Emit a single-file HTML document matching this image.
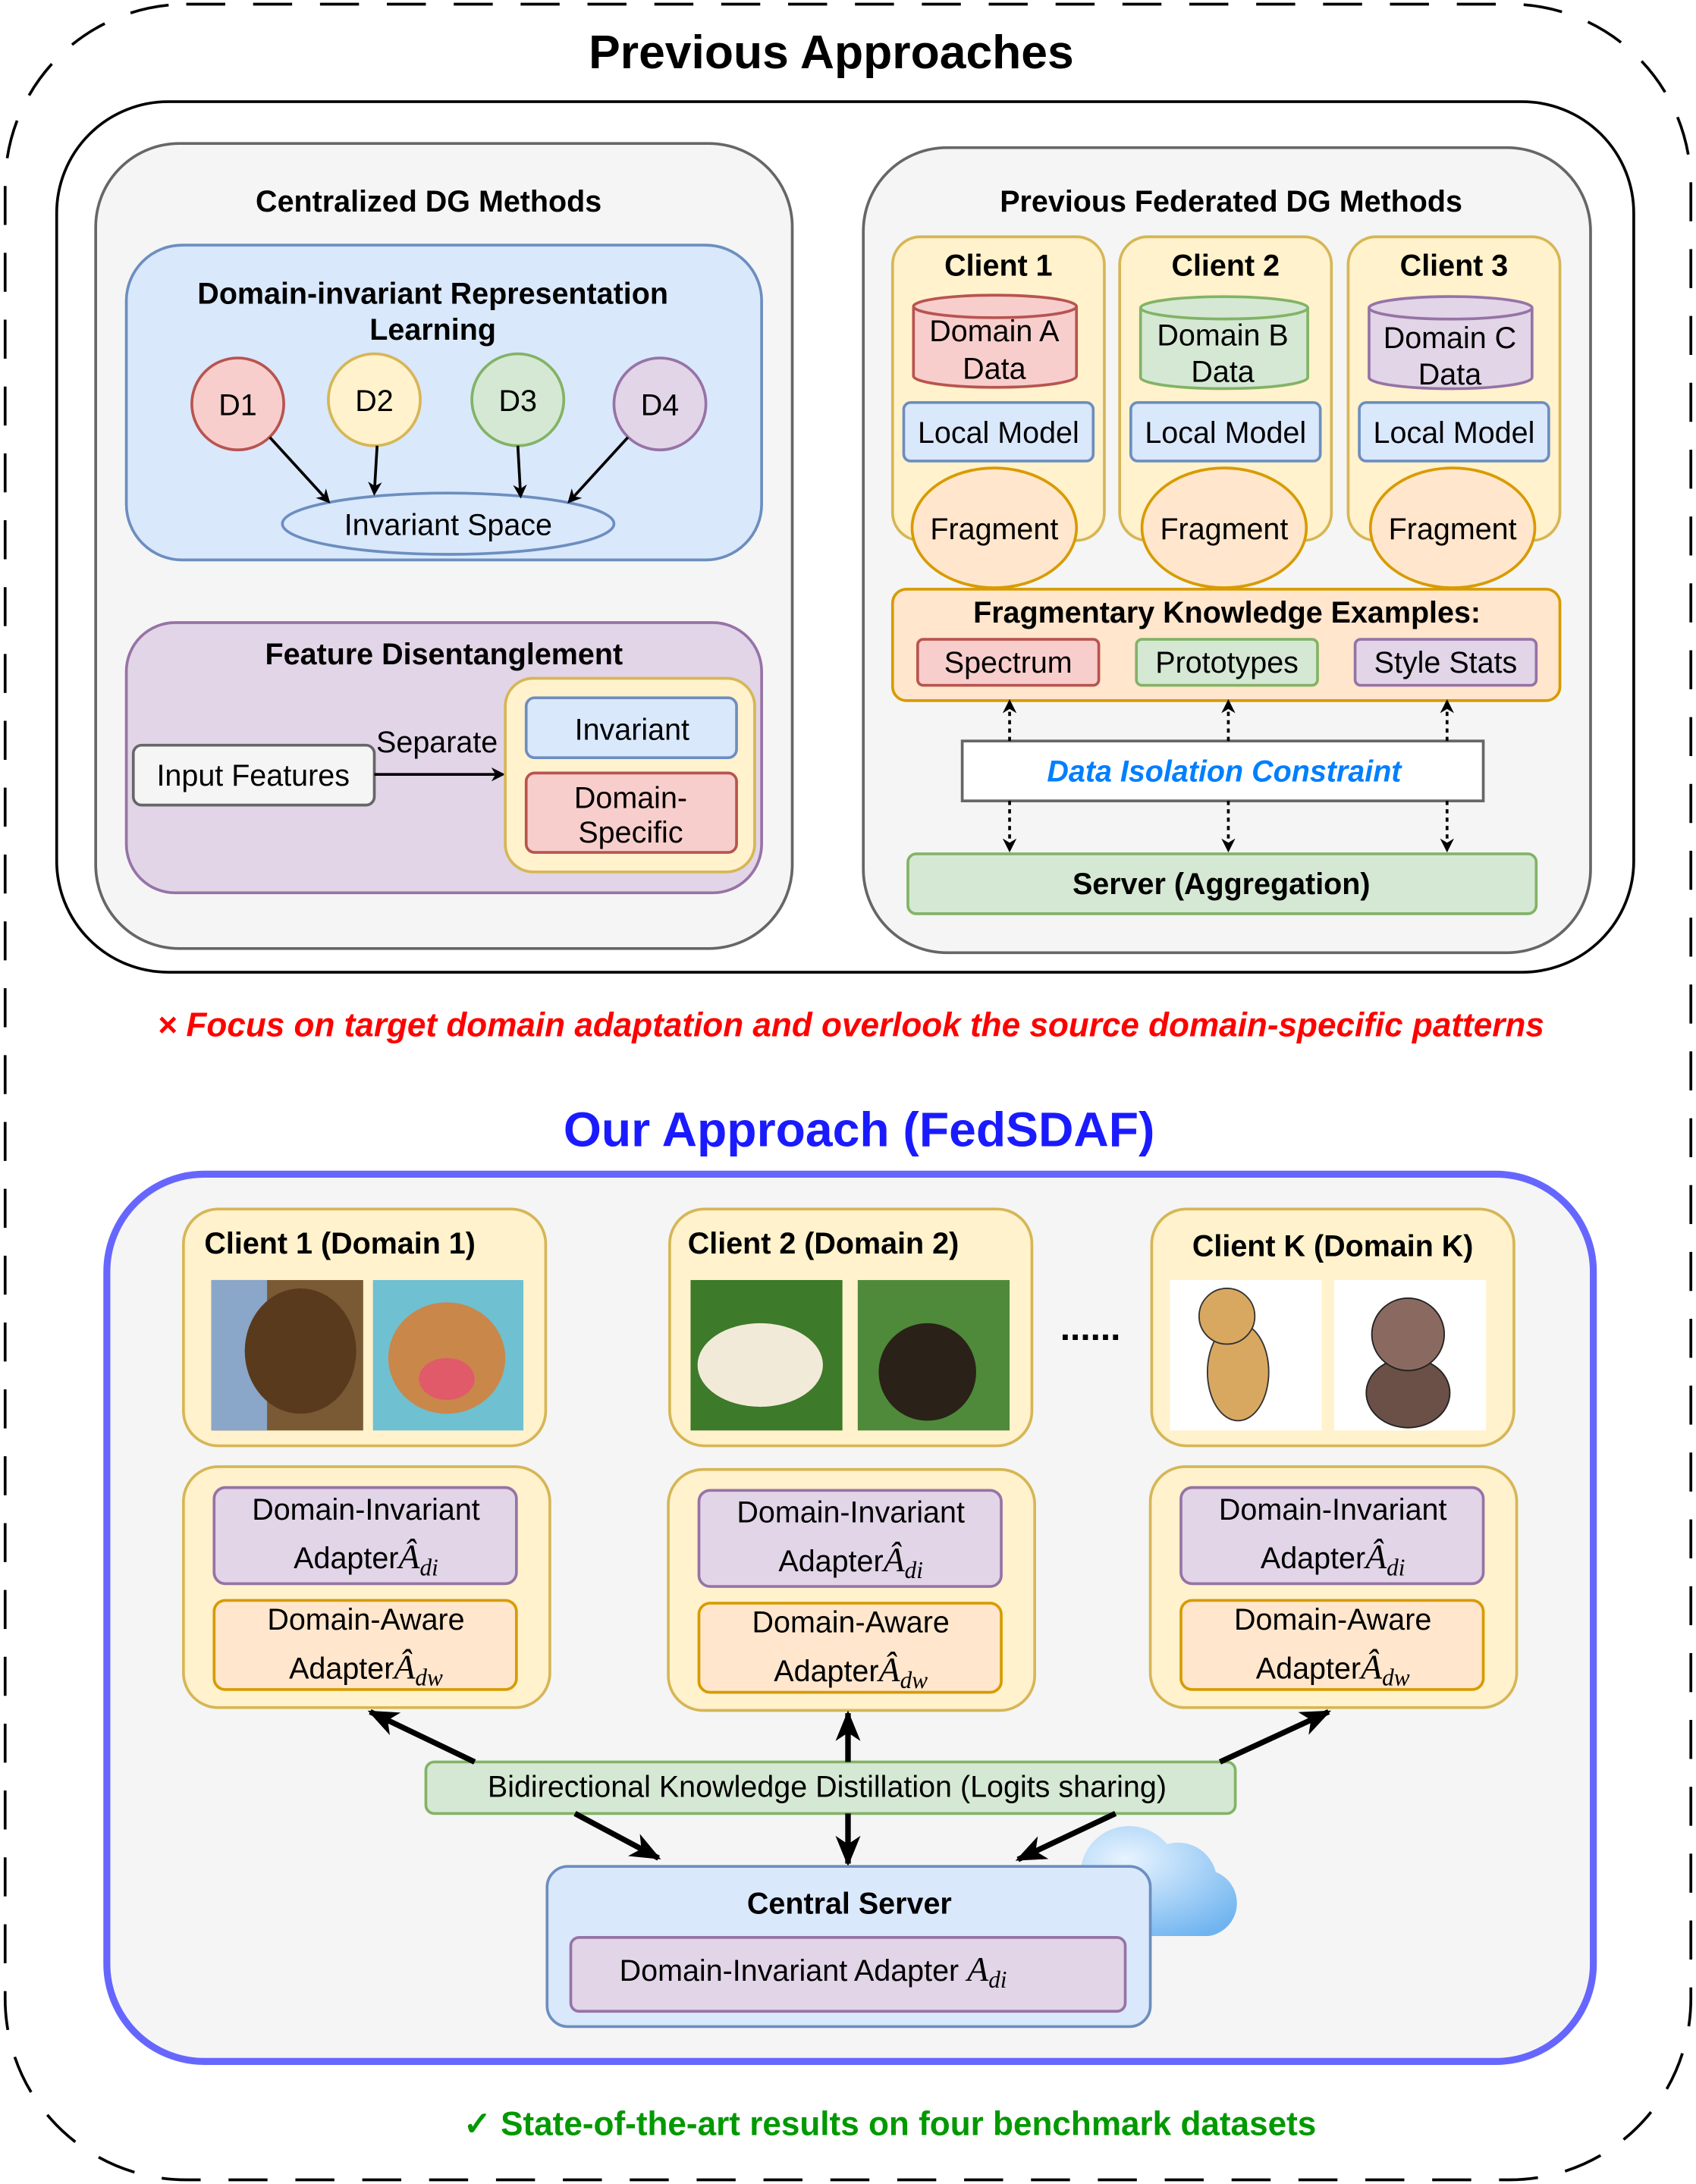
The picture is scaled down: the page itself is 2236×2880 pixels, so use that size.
<!DOCTYPE html>
<html><head><meta charset="utf-8"><style>
html,body{margin:0;padding:0;background:#fff}
svg{display:block}
text{font-family:"Liberation Sans",sans-serif;fill:#000}
.b{font-weight:bold}
.c{text-anchor:middle}
.m{font-family:"Liberation Serif",serif;font-style:italic}
</style></head><body>
<svg width="2236" height="2880" viewBox="0 0 1216 1568" xmlns="http://www.w3.org/2000/svg">
<defs>
<marker id="ah" markerWidth="10" markerHeight="10" refX="8" refY="5" orient="auto" markerUnits="userSpaceOnUse"><path d="M0,0 L10,5 L0,10 L3,5z" fill="#000"/></marker>
<marker id="ahb" markerWidth="22" markerHeight="18" refX="20" refY="9" orient="auto" markerUnits="userSpaceOnUse"><path d="M0,0 L22,9 L0,18 L6,9z" fill="#000"/></marker>
<radialGradient id="cl" cx="0.4" cy="0.3" r="0.8"><stop offset="0" stop-color="#e8f4ff"/><stop offset="1" stop-color="#6fb4f0"/></radialGradient>
</defs>
<rect x="3" y="3" width="1210" height="1562" rx="130" fill="none" stroke="#000" stroke-width="2" stroke-dasharray="28,20"/>
<text x="596" y="49" class="b c" font-size="34">Previous Approaches</text>
<rect x="40" y="73" width="1132" height="625" rx="80" fill="#fff" stroke="#000" stroke-width="2"/>
<!-- left -->
<rect x="68" y="103" width="500" height="578" rx="60" fill="#f5f5f5" stroke="#666" stroke-width="2"/>
<text x="307" y="152" class="b c" font-size="21.5">Centralized DG Methods</text>
<rect x="90" y="176" width="456" height="226" rx="40" fill="#dae8fc" stroke="#6c8ebf" stroke-width="2"/>
<text x="310" y="218" class="b c" font-size="21.5">Domain-invariant Representation</text>
<text x="310" y="244" class="b c" font-size="21.5">Learning</text>
<g stroke-width="2">
<circle cx="170" cy="290" r="33" fill="#f8cecc" stroke="#b85450"/>
<circle cx="268" cy="287" r="33" fill="#fff2cc" stroke="#d6b656"/>
<circle cx="371" cy="287" r="33" fill="#d5e8d4" stroke="#82b366"/>
<circle cx="473" cy="290" r="33" fill="#e1d5e7" stroke="#9673a6"/>
<ellipse cx="321" cy="376" rx="119" ry="22" fill="#dae8fc" stroke="#6c8ebf"/>
</g>
<text x="170" y="298" class="c" font-size="21.5">D1</text>
<text x="268" y="295" class="c" font-size="21.5">D2</text>
<text x="371" y="295" class="c" font-size="21.5">D3</text>
<text x="473" y="298" class="c" font-size="21.5">D4</text>
<text x="321" y="384" class="c" font-size="21.5">Invariant Space</text>
<g stroke="#000" stroke-width="2" marker-end="url(#ah)">
<line x1="193" y1="314" x2="235" y2="360"/><line x1="270" y1="320" x2="268" y2="354"/>
<line x1="371" y1="320" x2="373" y2="356"/><line x1="450" y1="314" x2="408" y2="360"/>
</g>
<rect x="90" y="447" width="456" height="194" rx="35" fill="#e1d5e7" stroke="#9673a6" stroke-width="2"/>
<text x="318" y="477" class="b c" font-size="21.5">Feature Disentanglement</text>
<rect x="95" y="535" width="173" height="43" rx="6" fill="#f5f5f5" stroke="#666" stroke-width="2"/>
<text x="181" y="564" class="c" font-size="21.5">Input Features</text>
<line x1="268" y1="556" x2="360" y2="556" stroke="#000" stroke-width="2" marker-end="url(#ah)"/>
<text x="313" y="540" class="c" font-size="21.5">Separate</text>
<rect x="362" y="487" width="179" height="139" rx="20" fill="#fff2cc" stroke="#d6b656" stroke-width="2"/>
<rect x="377" y="501" width="151" height="43" rx="6" fill="#dae8fc" stroke="#6c8ebf" stroke-width="2"/>
<text x="453" y="531" class="c" font-size="21.5">Invariant</text>
<rect x="377" y="555" width="151" height="57" rx="6" fill="#f8cecc" stroke="#b85450" stroke-width="2"/>
<text x="452" y="580" class="c" font-size="21.5">Domain-</text>
<text x="452" y="605" class="c" font-size="21.5">Specific</text>
<!-- right -->
<rect x="619" y="106" width="522" height="578" rx="60" fill="#f5f5f5" stroke="#666" stroke-width="2"/>
<text x="883" y="152" class="b c" font-size="21.5">Previous Federated DG Methods</text>
<g stroke-width="2">
<rect x="640" y="170" width="152" height="218" rx="20" fill="#fff2cc" stroke="#d6b656"/>
<rect x="803" y="170" width="152" height="218" rx="20" fill="#fff2cc" stroke="#d6b656"/>
<rect x="967" y="170" width="152" height="218" rx="20" fill="#fff2cc" stroke="#d6b656"/>
</g>
<text x="716" y="198" class="b c" font-size="21.5">Client 1</text>
<text x="879" y="198" class="b c" font-size="21.5">Client 2</text>
<text x="1043" y="198" class="b c" font-size="21.5">Client 3</text>
<g stroke-width="2">
<path d="M655,220 v50 a58,8 0 0 0 117,0 v-50 a58,8 0 0 0 -117,0 a58,8 0 0 0 117,0" fill="#f8cecc" stroke="#b85450"/>
<path d="M818,221 v50 a60,8 0 0 0 120,0 v-50 a60,8 0 0 0 -120,0 a60,8 0 0 0 120,0" fill="#d5e8d4" stroke="#82b366"/>
<path d="M982,221 v50 a58,8 0 0 0 117,0 v-50 a58,8 0 0 0 -117,0 a58,8 0 0 0 117,0" fill="#e1d5e7" stroke="#9673a6"/>
</g>
<text x="713" y="245" class="c" font-size="21.5">Domain A</text><text x="713" y="272" class="c" font-size="21.5">Data</text>
<text x="877" y="248" class="c" font-size="21.5">Domain B</text><text x="877" y="274" class="c" font-size="21.5">Data</text>
<text x="1040" y="250" class="c" font-size="21.5">Domain C</text><text x="1040" y="276" class="c" font-size="21.5">Data</text>
<g stroke-width="2" fill="#dae8fc" stroke="#6c8ebf">
<rect x="648" y="289" width="136" height="42" rx="5"/><rect x="811" y="289" width="136" height="42" rx="5"/><rect x="975" y="289" width="136" height="42" rx="5"/>
</g>
<text x="716" y="318" class="c" font-size="21.5">Local Model</text>
<text x="879" y="318" class="c" font-size="21.5">Local Model</text>
<text x="1043" y="318" class="c" font-size="21.5">Local Model</text>
<g stroke-width="2" fill="#ffe6cc" stroke="#d79b00">
<ellipse cx="713" cy="379" rx="59" ry="43"/><ellipse cx="878" cy="379" rx="59" ry="43"/><ellipse cx="1042" cy="379" rx="59" ry="43"/>
</g>
<text x="713" y="387" class="c" font-size="21.5">Fragment</text>
<text x="878" y="387" class="c" font-size="21.5">Fragment</text>
<text x="1042" y="387" class="c" font-size="21.5">Fragment</text>
<rect x="640" y="423" width="479" height="80" rx="10" fill="#ffe6cc" stroke="#d79b00" stroke-width="2"/>
<text x="880" y="447" class="b c" font-size="21.5">Fragmentary Knowledge Examples:</text>
<rect x="658" y="459" width="130" height="33" rx="4" fill="#f8cecc" stroke="#b85450" stroke-width="2"/>
<rect x="815" y="459" width="130" height="33" rx="4" fill="#d5e8d4" stroke="#82b366" stroke-width="2"/>
<rect x="972" y="459" width="130" height="33" rx="4" fill="#e1d5e7" stroke="#9673a6" stroke-width="2"/>
<text x="723" y="483" class="c" font-size="21.5">Spectrum</text>
<text x="880" y="483" class="c" font-size="21.5">Prototypes</text>
<text x="1037" y="483" class="c" font-size="21.5">Style Stats</text>
<rect x="690" y="532" width="374" height="43" fill="#fff" stroke="#666" stroke-width="2"/>
<text x="878" y="561" class="b c" font-size="21.5" font-style="italic" style="fill:#007fff">Data Isolation Constraint</text>
<g stroke="#000" stroke-width="2" stroke-dasharray="3,3" marker-end="url(#ah)">
<line x1="724" y1="532" x2="724" y2="504"/><line x1="881" y1="532" x2="881" y2="504"/><line x1="1038" y1="532" x2="1038" y2="504"/>
<line x1="724" y1="575" x2="724" y2="610"/><line x1="881" y1="575" x2="881" y2="610"/><line x1="1038" y1="575" x2="1038" y2="610"/>
</g>
<rect x="651" y="613" width="451" height="43" rx="6" fill="#d5e8d4" stroke="#82b366" stroke-width="2"/>
<text x="876" y="642" class="b c" font-size="21.5">Server (Aggregation)</text>
<text x="610" y="744" class="b c" font-size="24" font-style="italic" style="fill:#ff0000">× Focus on target domain adaptation and overlook the source domain-specific patterns</text>
<text x="616" y="823" class="b c" font-size="35" style="fill:#1a1aff">Our Approach (FedSDAF)</text>
<rect x="76" y="843" width="1067" height="637" rx="70" fill="#f5f5f5" stroke="#6666ff" stroke-width="5"/>
<!-- client cards -->
<g stroke-width="2" fill="#fff2cc" stroke="#d6b656">
<rect x="131" y="868" width="260" height="170" rx="25"/><rect x="480" y="868" width="260" height="170" rx="25"/><rect x="826" y="868" width="260" height="170" rx="25"/>
</g>
<text x="146" y="900" class="b" font-size="21.5">Client 1 (Domain 1)</text>
<text x="493" y="900" class="b" font-size="21.5">Client 2 (Domain 2)</text>
<text x="956" y="902" class="b c" font-size="21.5">Client K (Domain K)</text>
<!-- images -->
<rect x="151" y="919" width="109" height="108" fill="#7a5a35"/><rect x="151" y="919" width="40" height="108" fill="#8aa6c8"/><ellipse cx="215" cy="970" rx="40" ry="45" fill="#5a3a1c"/>
<rect x="267" y="919" width="108" height="108" fill="#6fc0d0"/><ellipse cx="320" cy="975" rx="42" ry="40" fill="#c9874a"/><ellipse cx="320" cy="990" rx="20" ry="15" fill="#e05a6a"/>
<rect x="495" y="919" width="109" height="108" fill="#3d7a2a"/><ellipse cx="545" cy="980" rx="45" ry="30" fill="#f2ead8"/>
<rect x="615" y="919" width="109" height="108" fill="#4f8a3a"/><ellipse cx="665" cy="985" rx="35" ry="35" fill="#2a2218"/>
<rect x="839" y="919" width="109" height="108" fill="#fff"/><ellipse cx="888" cy="985" rx="22" ry="35" fill="#d9a860" stroke="#333"/><circle cx="880" cy="945" r="20" fill="#d9a860" stroke="#333"/>
<rect x="957" y="919" width="109" height="108" fill="#fff"/><ellipse cx="1010" cy="1000" rx="30" ry="25" fill="#6b5048" stroke="#222"/><circle cx="1010" cy="958" r="26" fill="#8a6a60" stroke="#222"/>
<text x="782" y="962" class="b c" font-size="26">......</text>
<!-- adapter cards -->
<g id="ad">
<rect x="131" y="1053" width="263" height="173" rx="25" fill="#fff2cc" stroke="#d6b656" stroke-width="2"/>
<rect x="153" y="1068" width="217" height="69" rx="8" fill="#e1d5e7" stroke="#9673a6" stroke-width="2"/>
<text x="262" y="1091" class="c" font-size="21.5">Domain-Invariant</text>
<text x="262" y="1126" class="c" font-size="21.5">Adapter<tspan class="m" font-size="25">Â</tspan><tspan class="m" font-size="17" dy="5">di</tspan></text>
<rect x="153" y="1149" width="217" height="64" rx="8" fill="#ffe6cc" stroke="#d79b00" stroke-width="2"/>
<text x="262" y="1170" class="c" font-size="21.5">Domain-Aware</text>
<text x="262" y="1205" class="c" font-size="21.5">Adapter<tspan class="m" font-size="25">Â</tspan><tspan class="m" font-size="17" dy="5">dw</tspan></text>
</g>
<use href="#ad" x="348" y="2"/>
<use href="#ad" x="694" y="0"/>
<!-- cloud -->
<path d="M770,1390 a25,25 0 0 1 5,-48 a35,35 0 0 1 62,-18 a28,28 0 0 1 35,20 a24,24 0 0 1 -5,46 z" fill="url(#cl)"/>
<rect x="305" y="1265" width="581" height="37" rx="6" fill="#d5e8d4" stroke="#82b366" stroke-width="2"/>
<text x="593" y="1290" class="c" font-size="21.5">Bidirectional Knowledge Distillation (Logits sharing)</text>
<g stroke="#000" stroke-width="4" marker-end="url(#ahb)">
<line x1="340" y1="1265" x2="265" y2="1229"/><line x1="608" y1="1265" x2="608" y2="1230"/><line x1="875" y1="1265" x2="953" y2="1229"/>
<line x1="412" y1="1302" x2="472" y2="1334"/><line x1="608" y1="1302" x2="608" y2="1338"/><line x1="800" y1="1302" x2="730" y2="1335"/>
</g>
<rect x="392" y="1340" width="433" height="115" rx="15" fill="#dae8fc" stroke="#6c8ebf" stroke-width="2"/>
<text x="609" y="1374" class="b c" font-size="21.5">Central Server</text>
<rect x="409" y="1391" width="398" height="53" rx="6" fill="#e1d5e7" stroke="#9673a6" stroke-width="2"/>
<text x="583" y="1422" class="c" font-size="21.5">Domain-Invariant Adapter <tspan class="m" font-size="25">A</tspan><tspan class="m" font-size="17" dy="5">di</tspan></text>
<text x="638" y="1533" class="b c" font-size="24" style="fill:#009900">✓ State-of-the-art results on four benchmark datasets</text>
</svg>
</body></html>
